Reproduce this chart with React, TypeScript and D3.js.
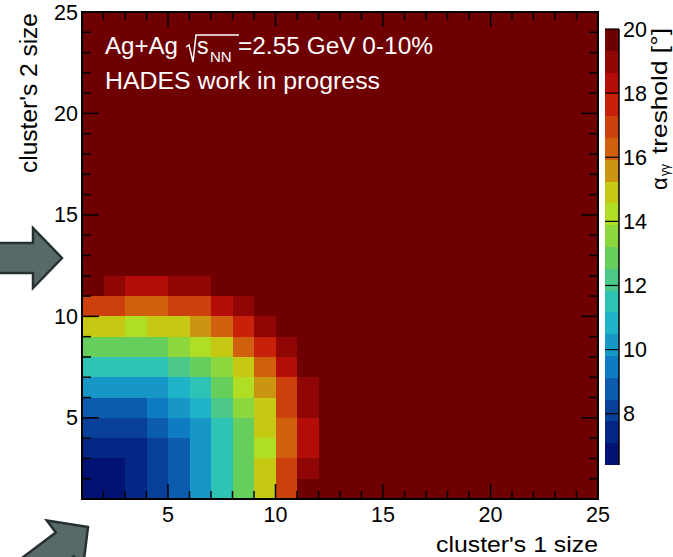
import React from "react";
import * as d3 from "d3";

// ---- data ----
const binEdgesX = [1, 2, 3, 4, 5, 6, 7, 8, 9, 10, 11, 12, 13, 14, 15, 16, 17, 18, 19, 20, 21, 22, 23, 24, 25];
const binEdgesY = [1, 2, 3, 4, 5, 6, 7, 8, 9, 10, 11, 12, 13, 14, 15, 16, 17, 18, 19, 20, 21, 22, 23, 24, 25];
const xTicks = [5, 10, 15, 20, 25];
const yTicks = [5, 10, 15, 20, 25];
const zTicks = [8, 10, 12, 14, 16, 18, 20];
const Z_MIN = 6.4;
const Z_MAX = 20;
const N_CONTOURS = 20;
const SATURATED = 20; // cells outside the listed block are at/above the maximum

// threshold values (deg) for cluster 2 size = 1..11, cluster 1 size = 1..12
const rowY1 = [6.7, 6.7, 7.4, 8.1, 8.8, 10.1, 11.5, 12.9, 14.9, 16.9, 20, 20];
const rowY2 = [6.7, 6.7, 7.4, 8.1, 8.8, 10.1, 11.5, 12.9, 14.9, 16.9, 19.0, 20];
const rowY3 = [7.4, 7.4, 7.4, 8.1, 8.8, 10.1, 11.5, 12.9, 14.2, 16.3, 18.3, 20];
const rowY4 = [8.1, 8.1, 8.1, 8.8, 9.5, 10.1, 11.5, 12.9, 14.9, 16.3, 18.3, 20];
const rowY5 = [8.8, 8.8, 8.8, 9.5, 10.1, 10.8, 12.2, 13.5, 14.9, 16.9, 19.0, 20];
const rowY6 = [10.1, 10.1, 10.1, 10.1, 10.8, 11.5, 12.9, 14.2, 15.6, 16.9, 19.0, 20];
const rowY7 = [11.5, 11.5, 11.5, 11.5, 12.2, 12.9, 13.5, 14.9, 16.3, 18.3, 20, 20];
const rowY8 = [12.9, 12.9, 12.9, 12.9, 13.5, 14.2, 14.9, 16.3, 17.6, 19.0, 20, 20];
const rowY9 = [14.9, 14.9, 14.2, 14.9, 14.9, 15.6, 16.3, 17.6, 19.0, 20, 20, 20];
const rowY10 = [16.9, 16.9, 16.3, 16.3, 16.9, 16.9, 18.3, 19.0, 20, 20, 20, 20];
const rowY11 = [20, 19.0, 18.3, 18.3, 19.0, 19.0, 20, 20, 20, 20, 20, 20];
const rows = [rowY1, rowY2, rowY3, rowY4, rowY5, rowY6, rowY7, rowY8, rowY9, rowY10, rowY11];

// ROOT kRainBow palette stops
const paletteStops = [0, 0.125, 0.25, 0.375, 0.5, 0.625, 0.75, 0.875, 1];
const paletteColors = [
  "rgb(0,0,99)", "rgb(5,48,142)", "rgb(15,124,198)", "rgb(35,192,201)", "rgb(102,206,90)",
  "rgb(196,226,22)", "rgb(208,97,13)", "rgb(199,16,8)", "rgb(110,0,2)",
];

// ---- layout ----
const W = 673, H = 557;
const L = 82, R = 598, T = 12, B = 499;
const CB_L = 605, CB_R = 619, CB_T = 29, CB_B = 465;
const FONT = "'Liberation Sans', Arial, Helvetica, sans-serif";

const gradient = d3.scaleLinear<string>().domain(paletteStops).range(paletteColors).interpolate(d3.interpolateRgb);
const NCOL = 255;
function bandColor(i: number) {
  const j = Math.min(NCOL - 1, Math.floor(((i + 0.99) * NCOL) / N_CONTOURS));
  return gradient(j / (NCOL - 1));
}
const zBand = d3.scaleLinear().domain([Z_MIN, Z_MAX]).range([0, N_CONTOURS]);
function valueColor(v: number) {
  const i = Math.max(0, Math.min(N_CONTOURS - 1, Math.floor(zBand(v))));
  return bandColor(i);
}

export default function App() {
  const x = d3.scaleLinear().domain([1, 25]).range([L, R]);
  const y = d3.scaleLinear().domain([1, 25]).range([B, T]);
  const zy = d3.scaleLinear().domain([Z_MIN, Z_MAX]).range([CB_B, CB_T]);

  const cells: { x0: number; x1: number; y0: number; y1: number; v: number }[] = [];
  for (let j = 0; j < binEdgesY.length - 1; j++) {
    for (let i = 0; i < binEdgesX.length - 1; i++) {
      const row = rows[j];
      const v = row && i < row.length ? row[i] : SATURATED;
      cells.push({ x0: binEdgesX[i], x1: binEdgesX[i + 1], y0: binEdgesY[j], y1: binEdgesY[j + 1], v });
    }
  }

  const bandLevels = d3.range(N_CONTOURS).map((i) => Z_MIN + ((Z_MAX - Z_MIN) * i) / N_CONTOURS);
  const bandStep = (Z_MAX - Z_MIN) / N_CONTOURS;

  const arrowPts = "0,0 -29,-30 -29,-15 -110,-15 -110,15 -29,15 -29,30";

  return (
    <svg width={W} height={H} style={{ position: "absolute", left: 0, top: 0, background: "#fff" }} fontFamily={FONT}>
      <rect x={0} y={0} width={W} height={H} fill="#fff" />
      {/* cells */}
      <g shapeRendering="crispEdges">
        {cells.map((c, k) => (
          <rect key={k} x={x(c.x0)} y={y(c.y1)} width={x(c.x1) - x(c.x0)} height={y(c.y0) - y(c.y1)} fill={valueColor(c.v)} />
        ))}
      </g>
      {/* ticks */}
      <g stroke="#000" strokeWidth={1.5}>
        {binEdgesX.map((t) => {
          const major = xTicks.includes(t);
          const len = major ? 15 : 8;
          return (
            <g key={"x" + t}>
              <line x1={x(t)} x2={x(t)} y1={B} y2={B - len} />
              <line x1={x(t)} x2={x(t)} y1={T} y2={T + len} />
            </g>
          );
        })}
        {binEdgesY.map((t) => {
          const major = yTicks.includes(t);
          const len = major ? 17 : 9;
          return (
            <g key={"y" + t}>
              <line x1={L} x2={L + len} y1={y(t)} y2={y(t)} />
              <line x1={R} x2={R - len} y1={y(t)} y2={y(t)} />
            </g>
          );
        })}
      </g>
      <rect x={L} y={T} width={R - L} height={B - T} fill="none" stroke="#000" strokeWidth={2} />
      {/* tick labels */}
      <g fontSize={21.5} fill="#000">
        {xTicks.map((t) => (
          <text key={"xl" + t} x={x(t)} y={522} textAnchor="middle">{t}</text>
        ))}
        {yTicks.map((t) => (
          <text key={"yl" + t} x={78} y={y(t) + 7.5} textAnchor="end">{t}</text>
        ))}
      </g>
      {/* axis titles */}
      <text x={R} y={552} textAnchor="end" fontSize={22.5} textLength={162} lengthAdjust="spacingAndGlyphs">cluster's 1 size</text>
      <text transform={`translate(37,${T + 1}) rotate(-90)`} textAnchor="end" fontSize={23.5} textLength={160} lengthAdjust="spacingAndGlyphs">cluster's 2 size</text>

      {/* colour bar */}
      <g shapeRendering="crispEdges">
        {bandLevels.map((lv, i) => (
          <rect key={"cb" + i} x={CB_L} width={CB_R - CB_L} y={zy(lv + bandStep)} height={zy(lv) - zy(lv + bandStep)} fill={bandColor(i)} />
        ))}
      </g>
      <line x1={CB_R} x2={CB_R} y1={CB_T} y2={CB_B} stroke="#000" strokeWidth={1.5} />
      {zTicks.map((t) => (
        <g key={"z" + t}>
          <line x1={CB_L} x2={CB_R} y1={zy(t)} y2={zy(t)} stroke="#000" strokeWidth={1.2} />
          <text x={623} y={zy(t) + 7.5} fontSize={21.5}>{t}</text>
        </g>
      ))}
      <g transform="translate(667,0) rotate(-90)" fontSize={22}>
        <text x={-190} y={0}>α</text>
        <text x={-176} y={2} fontSize={12}>γγ</text>
        <text x={-154} y={0} textLength={126} lengthAdjust="spacingAndGlyphs">treshold [°]</text>
      </g>

      {/* labels on the plot */}
      <g fill="#fff">
        <text x={105} y={54} fontSize={23} textLength={73} lengthAdjust="spacingAndGlyphs">Ag+Ag</text>
        <path d="M186,47 L189,45 L193,62 L196,35 L239,35" fill="none" stroke="#fff" strokeWidth={1.5} />
        <text x={197} y={54} fontSize={23}>s</text>
        <text x={210} y={62} fontSize={15}>NN</text>
        <text x={238} y={54} fontSize={23} textLength={195} lengthAdjust="spacingAndGlyphs">=2.55 GeV 0-10%</text>
        <text x={105} y={89} fontSize={23} textLength={275} lengthAdjust="spacingAndGlyphs">HADES work in progress</text>
      </g>

      {/* arrows */}
      <polygon points={arrowPts} transform="translate(62,258)" fill="#586969" stroke="#263030" strokeWidth={2.5} strokeLinejoin="miter" />
      <polygon points={arrowPts} transform="translate(88,527) rotate(-37)" fill="#586969" stroke="#263030" strokeWidth={2.5} strokeLinejoin="miter" />
    </svg>
  );
}
